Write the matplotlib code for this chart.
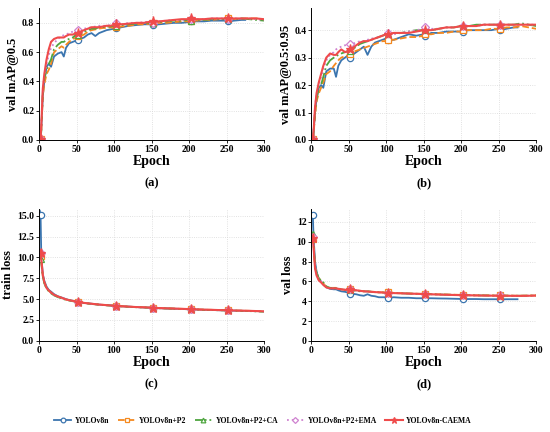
import matplotlib
matplotlib.use("Agg")
import matplotlib.pyplot as plt
from matplotlib.lines import Line2D

plt.rcParams["font.family"] = ["Liberation Serif", "DejaVu Serif"]
plt.rcParams["font.weight"] = "bold"

# epochs sampled from the curves
epochs = [1, 2, 3, 5, 7, 10, 13, 16, 20, 25, 30, 33, 36, 40, 45, 50, 52, 55, 60, 65,
          70, 75, 80, 85, 90, 95, 100, 102, 110, 120, 130, 140, 150, 152, 160, 170,
          180, 190, 200, 202, 210, 220, 230, 240, 250, 252, 260, 270, 280, 290, 300]
# YOLOv8n stopped early
epochs_v8n = epochs[:48] + [275]

names = ["YOLOv8n", "YOLOv8n+P2", "YOLOv8n+P2+CA", "YOLOv8n+P2+EMA", "YOLOv8n-CAEMA"]

# (a) val mAP@0.5
map50_v8n = [0.0, 0.01, 0.08, 0.30, 0.40, 0.50, 0.52, 0.50, 0.57, 0.59, 0.60, 0.57, 0.63,
             0.66, 0.67, 0.68, 0.68, 0.69, 0.70, 0.72, 0.73, 0.71, 0.73, 0.74, 0.75, 0.755,
             0.76, 0.765, 0.77, 0.78, 0.785, 0.79, 0.79, 0.785, 0.79, 0.795, 0.80, 0.80,
             0.805, 0.81, 0.81, 0.81, 0.815, 0.815, 0.815, 0.81, 0.815, 0.82, 0.82]
map50_p2 = [0.0, 0.01, 0.06, 0.30, 0.38, 0.45, 0.48, 0.52, 0.60, 0.62, 0.64, 0.63, 0.65,
            0.67, 0.69, 0.70, 0.71, 0.71, 0.72, 0.74, 0.75, 0.755, 0.76, 0.765, 0.765, 0.77,
            0.765, 0.77, 0.775, 0.78, 0.79, 0.79, 0.795, 0.80, 0.80, 0.80, 0.805, 0.81,
            0.81, 0.815, 0.815, 0.82, 0.82, 0.825, 0.825, 0.83, 0.825, 0.83, 0.83, 0.83, 0.82]
map50_ca = [0.0, 0.01, 0.06, 0.32, 0.42, 0.48, 0.52, 0.55, 0.62, 0.65, 0.67, 0.67, 0.68,
            0.69, 0.70, 0.72, 0.72, 0.72, 0.74, 0.75, 0.76, 0.76, 0.77, 0.77, 0.775, 0.775,
            0.78, 0.78, 0.785, 0.79, 0.795, 0.80, 0.80, 0.80, 0.805, 0.81, 0.815, 0.815,
            0.82, 0.815, 0.82, 0.82, 0.825, 0.825, 0.825, 0.825, 0.825, 0.83, 0.825, 0.82, 0.815]
map50_ema = [0.0, 0.01, 0.08, 0.33, 0.44, 0.52, 0.58, 0.63, 0.66, 0.69, 0.71, 0.715, 0.72,
             0.73, 0.74, 0.755, 0.75, 0.75, 0.76, 0.765, 0.77, 0.775, 0.78, 0.78, 0.78, 0.785,
             0.79, 0.80, 0.79, 0.80, 0.80, 0.805, 0.81, 0.80, 0.81, 0.815, 0.82, 0.82,
             0.825, 0.825, 0.825, 0.825, 0.83, 0.83, 0.83, 0.825, 0.83, 0.83, 0.83, 0.825, 0.82]
map50_caema = [0.0, 0.01, 0.10, 0.35, 0.45, 0.55, 0.62, 0.67, 0.69, 0.70, 0.70, 0.70, 0.71,
               0.72, 0.72, 0.73, 0.73, 0.74, 0.75, 0.76, 0.77, 0.77, 0.77, 0.775, 0.78, 0.78,
               0.785, 0.79, 0.79, 0.795, 0.80, 0.80, 0.81, 0.81, 0.81, 0.815, 0.82, 0.825,
               0.825, 0.83, 0.825, 0.825, 0.83, 0.83, 0.83, 0.83, 0.83, 0.83, 0.83, 0.83, 0.825]

# (b) val mAP@0.5:0.95
map95_v8n = [0.0, 0.005, 0.03, 0.10, 0.15, 0.19, 0.20, 0.19, 0.25, 0.26, 0.26, 0.23, 0.27,
             0.29, 0.30, 0.31, 0.30, 0.31, 0.32, 0.33, 0.34, 0.31, 0.34, 0.355, 0.36, 0.365,
             0.37, 0.365, 0.365, 0.375, 0.385, 0.38, 0.385, 0.38, 0.39, 0.39, 0.395, 0.395,
             0.395, 0.395, 0.40, 0.40, 0.40, 0.40, 0.405, 0.40, 0.405, 0.41, 0.41]
map95_p2 = [0.0, 0.005, 0.02, 0.09, 0.14, 0.17, 0.19, 0.21, 0.24, 0.25, 0.27, 0.28, 0.29,
            0.30, 0.305, 0.31, 0.315, 0.32, 0.325, 0.33, 0.335, 0.34, 0.345, 0.35, 0.355, 0.36,
            0.36, 0.365, 0.365, 0.37, 0.375, 0.375, 0.38, 0.385, 0.385, 0.39, 0.39, 0.395,
            0.395, 0.40, 0.40, 0.40, 0.40, 0.405, 0.405, 0.405, 0.41, 0.41, 0.415, 0.41, 0.405]
map95_ca = [0.0, 0.005, 0.025, 0.10, 0.15, 0.19, 0.20, 0.23, 0.27, 0.29, 0.30, 0.305, 0.31,
            0.315, 0.32, 0.325, 0.325, 0.33, 0.34, 0.35, 0.355, 0.36, 0.365, 0.37, 0.375, 0.38,
            0.385, 0.385, 0.39, 0.39, 0.395, 0.40, 0.40, 0.40, 0.40, 0.405, 0.41, 0.41,
            0.415, 0.415, 0.415, 0.42, 0.42, 0.42, 0.42, 0.42, 0.42, 0.42, 0.425, 0.42, 0.415]
map95_ema = [0.0, 0.005, 0.03, 0.12, 0.17, 0.20, 0.23, 0.26, 0.29, 0.31, 0.32, 0.33, 0.335,
             0.34, 0.345, 0.35, 0.35, 0.35, 0.355, 0.36, 0.36, 0.365, 0.37, 0.37, 0.375, 0.38,
             0.385, 0.39, 0.385, 0.39, 0.395, 0.40, 0.405, 0.41, 0.405, 0.405, 0.41, 0.41,
             0.415, 0.415, 0.415, 0.415, 0.42, 0.42, 0.42, 0.42, 0.42, 0.42, 0.42, 0.42, 0.42]
map95_caema = [0.0, 0.005, 0.03, 0.12, 0.17, 0.21, 0.24, 0.27, 0.30, 0.315, 0.31, 0.31, 0.32,
               0.33, 0.32, 0.325, 0.33, 0.335, 0.345, 0.355, 0.36, 0.36, 0.365, 0.37, 0.375,
               0.38, 0.385, 0.385, 0.39, 0.39, 0.39, 0.395, 0.40, 0.40, 0.40, 0.405, 0.41,
               0.41, 0.415, 0.415, 0.415, 0.415, 0.42, 0.42, 0.42, 0.42, 0.42, 0.42, 0.42,
               0.42, 0.42]

# (c) train loss
train_v8n = [15.6, 15.1, 10.2, 8.0, 7.2, 6.5, 6.1, 5.9, 5.6, 5.35, 5.2, 5.1, 5.0, 4.9, 4.8,
             4.7, 4.65, 4.6, 4.55, 4.5, 4.45, 4.4, 4.35, 4.3, 4.28, 4.25, 4.2, 4.2, 4.15,
             4.1, 4.05, 4.0, 3.97, 3.95, 3.92, 3.88, 3.85, 3.82, 3.79, 3.78, 3.75, 3.72,
             3.7, 3.67, 3.65, 3.64, 3.62, 3.6, 3.59]
train_p2 = [10.6, 10.2, 9.6, 7.8, 7.0, 6.3, 6.0, 5.75, 5.5, 5.3, 5.15, 5.05, 4.95, 4.87,
            4.78, 4.7, 4.65, 4.6, 4.55, 4.5, 4.45, 4.4, 4.35, 4.32, 4.28, 4.25, 4.22, 4.2,
            4.15, 4.1, 4.05, 4.02, 3.98, 3.96, 3.93, 3.9, 3.87, 3.84, 3.81, 3.8, 3.77, 3.74,
            3.72, 3.69, 3.67, 3.66, 3.64, 3.62, 3.6, 3.57, 3.54]
train_ca = [10.0, 9.8, 9.3, 7.7, 6.9, 6.25, 5.95, 5.7, 5.45, 5.25, 5.1, 5.0, 4.92, 4.84,
            4.75, 4.68, 4.63, 4.58, 4.52, 4.47, 4.42, 4.38, 4.33, 4.3, 4.26, 4.23, 4.2, 4.18,
            4.13, 4.08, 4.03, 4.0, 3.96, 3.94, 3.91, 3.88, 3.85, 3.82, 3.79, 3.78, 3.75,
            3.72, 3.7, 3.67, 3.65, 3.64, 3.62, 3.6, 3.57, 3.53, 3.48]
train_ema = [10.8, 10.5, 9.7, 7.8, 7.0, 6.3, 6.0, 5.75, 5.5, 5.3, 5.15, 5.05, 4.95, 4.87,
             4.78, 4.7, 4.65, 4.6, 4.54, 4.49, 4.44, 4.39, 4.34, 4.31, 4.27, 4.24, 4.21,
             4.19, 4.14, 4.09, 4.04, 4.01, 3.97, 3.95, 3.92, 3.89, 3.86, 3.83, 3.8, 3.79,
             3.76, 3.73, 3.71, 3.68, 3.66, 3.65, 3.63, 3.61, 3.58, 3.55, 3.52]
train_caema = [10.9, 10.5, 9.8, 7.9, 7.05, 6.35, 6.05, 5.8, 5.52, 5.32, 5.17, 5.07, 4.97,
               4.88, 4.79, 4.71, 4.66, 4.61, 4.55, 4.5, 4.45, 4.4, 4.35, 4.32, 4.28, 4.25,
               4.22, 4.2, 4.15, 4.1, 4.05, 4.02, 3.98, 3.96, 3.93, 3.9, 3.87, 3.84, 3.81,
               3.8, 3.77, 3.74, 3.72, 3.69, 3.67, 3.66, 3.64, 3.62, 3.6, 3.57, 3.54]

# (d) val loss
val_v8n = [12.9, 12.7, 10.5, 8.0, 7.0, 6.2, 6.0, 5.7, 5.4, 5.25, 5.2, 5.2, 5.1, 5.0, 4.95,
           4.85, 4.75, 4.75, 4.7, 4.6, 4.55, 4.7, 4.55, 4.5, 4.4, 4.4, 4.4, 4.35, 4.4, 4.35,
           4.35, 4.3, 4.3, 4.3, 4.3, 4.28, 4.27, 4.25, 4.23, 4.22, 4.22, 4.22, 4.2, 4.2,
           4.2, 4.18, 4.2, 4.2, 4.2]
val_p2 = [10.5, 10.3, 9.6, 7.5, 6.8, 6.3, 6.1, 5.8, 5.45, 5.35, 5.35, 5.35, 5.3, 5.2,
          5.15, 5.15, 5.2, 5.15, 5.1, 5.05, 5.0, 5.0, 4.95, 4.95, 4.9, 4.9, 4.88, 4.9, 4.85,
          4.8, 4.78, 4.75, 4.75, 4.75, 4.72, 4.7, 4.68, 4.66, 4.64, 4.65, 4.62, 4.6, 4.6,
          4.58, 4.58, 4.6, 4.57, 4.56, 4.56, 4.57, 4.58]
val_ca = [11.0, 10.8, 9.8, 7.6, 6.9, 6.3, 6.1, 5.9, 5.5, 5.35, 5.3, 5.3, 5.25, 5.2, 5.15,
          5.1, 5.1, 5.1, 5.05, 5.0, 5.0, 5.0, 4.95, 4.92, 4.9, 4.88, 4.85, 4.85, 4.82, 4.8,
          4.77, 4.75, 4.72, 4.72, 4.7, 4.68, 4.66, 4.64, 4.62, 4.62, 4.6, 4.59, 4.58, 4.57,
          4.56, 4.57, 4.56, 4.55, 4.55, 4.56, 4.58]
val_ema = [10.7, 10.5, 9.6, 7.4, 6.7, 6.2, 6.0, 5.7, 5.4, 5.3, 5.3, 5.3, 5.25, 5.2, 5.15,
           5.15, 5.25, 5.15, 5.1, 5.05, 5.0, 4.98, 4.95, 4.92, 4.9, 4.88, 4.85, 4.88, 4.82,
           4.8, 4.77, 4.75, 4.73, 4.75, 4.7, 4.68, 4.66, 4.64, 4.62, 4.63, 4.6, 4.59, 4.58,
           4.57, 4.56, 4.6, 4.56, 4.55, 4.55, 4.56, 4.57]
val_caema = [10.6, 10.4, 9.5, 7.3, 6.6, 6.1, 5.9, 5.65, 5.4, 5.3, 5.3, 5.3, 5.25, 5.2,
             5.15, 5.15, 5.25, 5.15, 5.1, 5.05, 5.0, 4.98, 4.95, 4.92, 4.9, 4.88, 4.85, 4.88,
             4.82, 4.8, 4.77, 4.75, 4.72, 4.72, 4.7, 4.67, 4.65, 4.63, 4.61, 4.62, 4.6,
             4.58, 4.57, 4.56, 4.55, 4.57, 4.55, 4.54, 4.54, 4.55, 4.57]

# marker positions: epochs 2, 52, 102, 152, 202, 252
mark_idx = [1, 16, 27, 33, 39, 45]

styles = [
    dict(color="#3b75af", linestyle="-", marker="o", mfc="white", lw=1.3, ms=4.5),
    dict(color="#f5891f", linestyle="--", marker="s", mfc="white", lw=1.3, ms=4.5),
    dict(color="#4ea53f", linestyle="-.", marker="^", mfc="white", lw=1.3, ms=4.5),
    dict(color="#cf82d0", linestyle=":", marker="D", mfc="white", lw=1.3, ms=4.0),
    dict(color="#ef4b4b", linestyle="-", marker="*", mfc="#ef4b4b", lw=1.5, ms=6.5),
]

panels = [
    ("val mAP@0.5", [map50_v8n, map50_p2, map50_ca, map50_ema, map50_caema],
     (0, 0.9), [0.0, 0.2, 0.4, 0.6, 0.8], "{:.1f}", "(a)"),
    ("val mAP@0.5:0.95", [map95_v8n, map95_p2, map95_ca, map95_ema, map95_caema],
     (0, 0.48), [0.0, 0.1, 0.2, 0.3, 0.4], "{:.1f}", "(b)"),
    ("train loss", [train_v8n, train_p2, train_ca, train_ema, train_caema],
     (0, 15.8), [0.0, 2.5, 5.0, 7.5, 10.0, 12.5, 15.0], "{:.1f}", "(c)"),
    ("val loss", [val_v8n, val_p2, val_ca, val_ema, val_caema],
     (0, 13.3), [0, 2, 4, 6, 8, 10, 12], "{:d}", "(d)"),
]

fig = plt.figure(figsize=(5.5, 4.32), dpi=100)
boxes = [(0.071, 0.676), (0.566, 0.676), (0.071, 0.211), (0.566, 0.211)]

for (ylabel, series, ylim, yticks, fmt, tag), (x0, y0) in zip(panels, boxes):
    ax = fig.add_axes([x0, y0, 0.409, 0.305])
    for i, (vals, st) in enumerate(zip(series, styles)):
        xs = epochs_v8n if i == 0 else epochs
        ax.plot(xs, vals, markevery=mark_idx, mew=0.9, **st)
    ax.set_xlim(0, 300)
    ax.set_ylim(*ylim)
    ax.set_xticks([0, 50, 100, 150, 200, 250, 300])
    ax.set_yticks(yticks)
    ax.set_yticklabels([fmt.format(v) for v in yticks])
    ax.tick_params(labelsize=7, length=2, width=0.6, pad=1.5)
    ax.grid(True, color="#d8d8d8", linestyle=":", linewidth=0.6)
    ax.set_axisbelow(True)
    for s in ["top", "right"]:
        ax.spines[s].set_visible(False)
    for s in ["left", "bottom"]:
        ax.spines[s].set_linewidth(0.7)
    ax.set_xlabel("Epoch", fontsize=10, fontweight="bold", labelpad=1)
    ax.set_ylabel(ylabel, fontsize=9, fontweight="bold", labelpad=2)
    ax.text(0.5, -0.33, tag, transform=ax.transAxes, ha="center", va="center",
            fontsize=9, fontweight="bold")

handles = [Line2D([0], [0], **st, mew=0.9) for st in styles]
fig.legend(handles, names, loc="center", bbox_to_anchor=(0.478, 0.026), ncol=5,
           frameon=False, fontsize=5.5, handlelength=2.3, columnspacing=1.1,
           handletextpad=0.45, markerscale=0.75)

fig.savefig("out.png", dpi=100)
